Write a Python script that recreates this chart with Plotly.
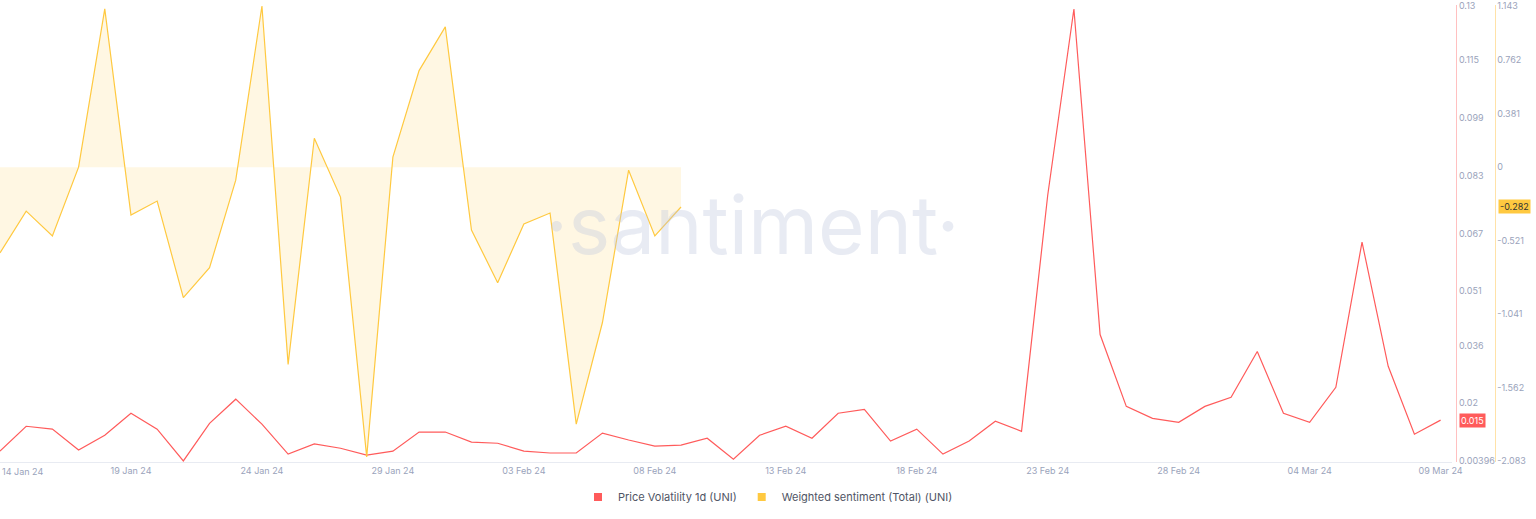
import plotly.graph_objects as go
import pandas as pd

dates = pd.date_range("2024-01-14", "2024-03-09", freq="D")
volatility = [0.0067,0.0136,0.0128,0.0070,0.0111,0.0172,0.0128,0.0040,0.0144,0.0211,
              0.0142,0.0059,0.0087,0.0075,0.0056,0.0067,0.0120,0.0120,0.0092,0.0089,
              0.0067,0.0062,0.0062,0.0117,0.0098,0.0081,0.0084,0.0103,0.0045,0.0111,
              0.0136,0.0103,0.0172,0.0183,0.0095,0.0128,0.0059,0.0095,0.0150,0.0122,
              0.0776,0.1292,0.0390,0.0191,0.0158,0.0147,0.0191,0.0216,0.0343,0.0172,
              0.0147,0.0244,0.0646,0.0302,0.0114,0.0153]
sentiment = [-0.607,-0.311,-0.487,0.0,1.123,-0.339,-0.240,-0.925,-0.713,-0.092,
             1.143,-1.398,0.205,-0.212,-2.054,0.071,0.685,0.995,-0.445,-0.819,
             -0.402,-0.325,-1.821,-1.101,-0.021,-0.487,-0.282]
vol_ticks = [0.00396,0.02,0.036,0.051,0.067,0.083,0.099,0.115,0.13]
sent_ticks = [-2.083,-1.562,-1.041,-0.521,0,0.381,0.762,1.143]
sent_tick_text = ["-2.083","-1.562","-1.041","-0.521","0","0.381","0.762","1.143"]
xtick_dates = pd.date_range("2024-01-19", "2024-03-09", freq="5D")

RED = "#ff5b5b"
YEL = "#ffc940"
fig = go.Figure()
fig.add_trace(go.Scatter(x=dates[:len(sentiment)], y=sentiment, yaxis="y2", mode="lines",
                         line=dict(color=YEL, width=1.2), fill="tozeroy",
                         fillcolor="rgba(255,201,64,0.15)", showlegend=False))
fig.add_trace(go.Scatter(x=dates, y=volatility, yaxis="y", mode="lines",
                         line=dict(color=RED, width=1.2), showlegend=False))
for nm, c in [("Price Volatility 1d (UNI)", RED), ("Weighted sentiment (Total) (UNI)", YEL)]:
    fig.add_trace(go.Scatter(x=[None], y=[None], mode="markers", name=nm,
                             marker=dict(symbol="square", size=8, color=c)))
fig.update_layout(
    width=1536, height=519, margin=dict(l=0, r=0, t=5, b=57, autoexpand=False),
    plot_bgcolor="white", paper_bgcolor="white",
    font=dict(family="Inter, sans-serif", size=9, color="#9aa3bb"),
    xaxis=dict(domain=[0, 0.945], range=[dates[0], dates[-1] + pd.Timedelta(hours=10)],
               tickvals=xtick_dates, tickformat="%d %b %y", showgrid=False,
               showline=True, linecolor="#e8ebf2", ticks="", zeroline=False),
    yaxis=dict(side="right", anchor="free", position=0.948, range=[0.0037, 0.1303],
               tickvals=vol_ticks, ticktext=[str(v) for v in vol_ticks],
               showgrid=False, zeroline=False, showline=True, linecolor="#ffc0c0", ticks=""),
    yaxis2=dict(side="right", overlaying="y", anchor="free", position=0.973,
                range=[-2.09, 1.15], tickvals=sent_ticks, ticktext=sent_tick_text,
                showgrid=False, zeroline=False, showline=True, linecolor="#ffe2a8", ticks=""),
    legend=dict(orientation="h", x=0.5, xanchor="center", y=-0.045, yanchor="top",
                font=dict(size=11, color="#505565")),
    hovermode=False,
)
fig.add_annotation(text="14 Jan 24", xref="x", yref="paper", x=dates[0], y=0,
                   yshift=-2, xanchor="left", yanchor="top", showarrow=False,
                   font=dict(size=9, color="#9aa3bb"))
fig.add_annotation(text="·santiment·", xref="paper", yref="paper", x=0.49, y=0.52,
                   showarrow=False, font=dict(size=80, color="rgba(190,198,220,0.35)"))
fig.add_annotation(text="0.015", xref="paper", yref="y", x=0.95, y=volatility[-1],
                   xanchor="left", showarrow=False, bgcolor=RED, font=dict(color="white", size=9))
fig.add_annotation(text="-0.282", xref="paper", yref="y2", x=0.975, y=sentiment[-1],
                   xanchor="left", showarrow=False, bgcolor=YEL, font=dict(color="#333", size=9))
fig.write_html("out.html", config={"displayModeBar": False},
               post_script="document.body.style.margin='0';")
